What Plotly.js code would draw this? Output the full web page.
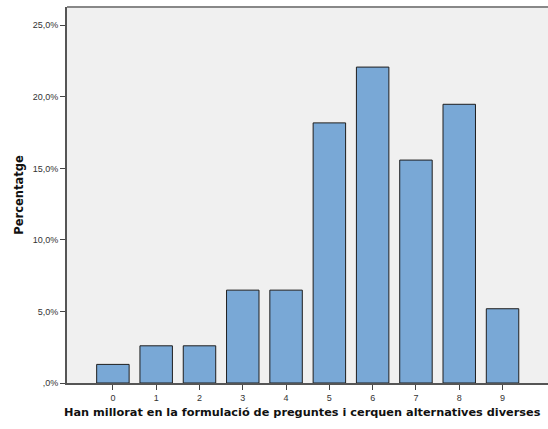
<!DOCTYPE html>
<html><head><meta charset="utf-8">
<script src="https://cdn.plot.ly/plotly-3.0.1.min.js"></script>
<style>body{margin:0;}#c{width:548px;height:429px;}</style>
</head><body><div id="c"></div>
<script>
const categories = [0,1,2,3,4,5,6,7,8,9];
const percents = [1.30, 2.60, 2.60, 6.49, 6.49, 18.18, 22.08, 15.58, 19.48, 5.19];
const yTickVals = [0, 5, 10, 15, 20, 25];
const yTickText = [",0%", "5,0%", "10,0%", "15,0%", "20,0%", "25,0%"];

const trace = {
  type: 'bar', x: categories, y: percents, width: 0.75,
  marker: {color: '#79A8D6', line: {color: '#1e1e1e', width: 1}},
  hoverinfo: 'none'
};
const layout = {
  width: 548, height: 429,
  margin: {l: 67, r: 0, t: 7, b: 46},
  paper_bgcolor: '#ffffff', plot_bgcolor: '#F0F0F0',
  showlegend: false,
  font: {family: 'Arial, Liberation Sans, sans-serif', size: 9, color: '#333'},
  xaxis: {
    range: [-1.06, 10.05], tickvals: categories, ticktext: categories.map(String),
    ticks: 'outside', ticklen: 5, tickcolor: '#444', showgrid: false, zeroline: false,
    showline: true, linecolor: '#555', linewidth: 2
  },
  yaxis: {
    range: [0, 26.28], tickvals: yTickVals, ticktext: yTickText,
    ticks: 'outside', ticklen: 5, tickcolor: '#444', showgrid: false, zeroline: false,
    showline: true, linecolor: '#555', linewidth: 2,
    title: {text: '<b>Percentatge</b>', font: {family: 'DejaVu Sans', size: 11.5, color: '#111'}, standoff: 7}
  },
  annotations: [{
    text: '<b>Han millorat en la formulació de preguntes i cerquen alternatives diverses</b>',
    xref: 'paper', yref: 'paper', x: (302.5 - 67) / 481, y: 0, yshift: -29,
    xanchor: 'center', yanchor: 'middle', showarrow: false,
    font: {family: 'DejaVu Sans', size: 11.3, color: '#111'}
  }],
  shapes: [{type: 'line', xref: 'paper', yref: 'paper', x0: 0, x1: 1, y0: 1, y1: 1, line: {color: '#888', width: 2}}]
};
Plotly.newPlot('c', [trace], layout, {staticPlot: true});
</script></body></html>
